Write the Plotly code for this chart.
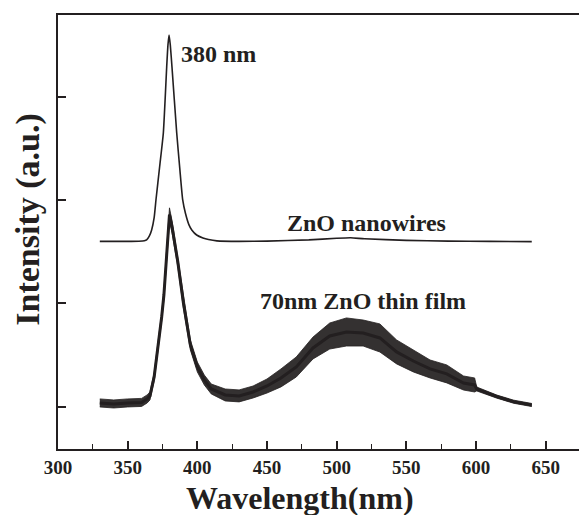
import plotly.graph_objects as go

# ZnO nanowires PL spectrum (offset, arbitrary units)
nw_wavelength = [330, 350, 358, 362, 363.6, 365.5, 367.2, 369, 370.3, 373, 375.6, 378, 378.9,
                 379.7, 380.6, 381.8, 385.2, 387.5, 389.5, 391.5, 394, 396, 399.5, 404, 408,
                 414, 430, 450, 480, 500, 510, 520, 550, 580, 610, 640]
nw_intensity = [1.600, 1.600, 1.602, 1.606, 1.614, 1.650, 1.711, 1.830, 2.001, 2.330, 2.650,
                3.289, 3.500, 3.598, 3.500, 3.289, 2.650, 2.290, 2.001, 1.870, 1.760, 1.711,
                1.662, 1.633, 1.618, 1.605, 1.600, 1.603, 1.615, 1.630, 1.635, 1.625, 1.610,
                1.603, 1.600, 1.598]

# 70 nm ZnO thin film PL spectrum: mean trace and noise half-amplitude
tf_wavelength = [330, 340, 350, 360, 364, 366, 369, 372, 374.4, 376, 378, 380, 382, 384, 386,
                 390, 395, 400, 405, 410, 420, 430, 440, 450, 460, 471, 483, 495, 507, 519,
                 531, 543, 555, 567, 579, 591, 599, 600.5, 615, 627, 640]
tf_intensity = [0.036, 0.026, 0.036, 0.041, 0.075, 0.104, 0.288, 0.597, 0.868, 1.081, 1.469,
                1.860, 1.730, 1.565, 1.401, 1.004, 0.597, 0.384, 0.258, 0.171, 0.113, 0.104,
                0.142, 0.200, 0.278, 0.384, 0.568, 0.684, 0.723, 0.713, 0.665, 0.530, 0.442,
                0.365, 0.317, 0.229, 0.210, 0.171, 0.097, 0.048, 0.016]
tf_noise = [0.039, 0.039, 0.039, 0.039, 0.039, 0.039, 0.039, 0.039, 0.039, 0.048, 0.058,
            0.065, 0.058, 0.048, 0.048, 0.048, 0.048, 0.048, 0.048, 0.048, 0.058, 0.058,
            0.058, 0.068, 0.087, 0.097, 0.106, 0.126, 0.136, 0.126, 0.136, 0.116, 0.106,
            0.087, 0.087, 0.068, 0.068, 0.019, 0.015, 0.015, 0.015]

x_ticks = [300, 350, 400, 450, 500, 550, 600, 650]
y_ticks = [0, 1, 2, 3]

INK = "#231f20"
FONT = "Liberation Serif"

tf_upper = [m + n for m, n in zip(tf_intensity, tf_noise)]
tf_lower = [m - n for m, n in zip(tf_intensity, tf_noise)]

fig = go.Figure()
fig.add_trace(go.Scatter(x=tf_wavelength, y=tf_upper, mode="lines",
                         line=dict(color=INK, width=0.8), showlegend=False,
                         hoverinfo="skip"))
fig.add_trace(go.Scatter(x=tf_wavelength, y=tf_lower, mode="lines", fill="tonexty",
                         fillcolor="rgba(35,31,32,0.92)",
                         line=dict(color=INK, width=0.8), showlegend=False,
                         hoverinfo="skip"))
fig.add_trace(go.Scatter(x=tf_wavelength, y=tf_intensity, mode="lines",
                         line=dict(color=INK, width=3), name="70nm ZnO thin film",
                         showlegend=False))
fig.add_trace(go.Scatter(x=nw_wavelength, y=nw_intensity, mode="lines",
                         line=dict(color=INK, width=1.6, shape="spline", smoothing=0.5),
                         name="ZnO nanowires", showlegend=False))

txt = dict(family=FONT, size=24, color=INK, weight="bold")
fig.add_annotation(x=415.2, y=3.414, text="380 nm", showarrow=False, font=txt,
                   xanchor="center", yanchor="middle")
fig.add_annotation(x=521.4, y=1.775, text="ZnO nanowires", showarrow=False, font=txt,
                   xanchor="center", yanchor="middle")
fig.add_annotation(x=519.1, y=1.020, text="70nm ZnO thin film", showarrow=False, font=txt,
                   xanchor="center", yanchor="middle")
fig.add_annotation(x=474.0, y=-0.112, xref="x", yref="paper", text="Wavelength(nm)",
                   showarrow=False, font=dict(family=FONT, size=32, color=INK, weight="bold"),
                   xanchor="center", yanchor="middle")
fig.add_annotation(x=-0.058, y=0.53, xref="paper", yref="paper", text="Intensity (a.u.)",
                   textangle=-90, showarrow=False,
                   font=dict(family=FONT, size=34, color=INK, weight="bold"),
                   xanchor="center", yanchor="middle")

fig.update_xaxes(range=[300, 673.9], tickvals=x_ticks, ticks="inside", ticklen=8,
                 tickwidth=1.6, tickcolor=INK, showline=True, linewidth=2, linecolor=INK,
                 mirror=True, showgrid=False, zeroline=False,
                 tickfont=dict(family=FONT, size=19, color=INK, weight="bold"),
                 minor=dict(dtick=25, tick0=300, ticks="inside", ticklen=5, tickwidth=1.4,
                            tickcolor=INK, showgrid=False))
fig.update_yaxes(range=[-0.41, 3.792], tickvals=y_ticks, ticks="inside", ticklen=8,
                 tickwidth=1.6, tickcolor=INK, showticklabels=False, showline=True,
                 linewidth=2, linecolor=INK, mirror=False, showgrid=False, zeroline=False)

fig.update_layout(width=579, height=515, autosize=False,
                  margin=dict(l=58, r=0, t=15, b=66),
                  plot_bgcolor="white", paper_bgcolor="white")

fig.write_html("out.html", config={"displayModeBar": False},
               post_script="document.body.style.margin='0';document.body.style.padding='0';")
